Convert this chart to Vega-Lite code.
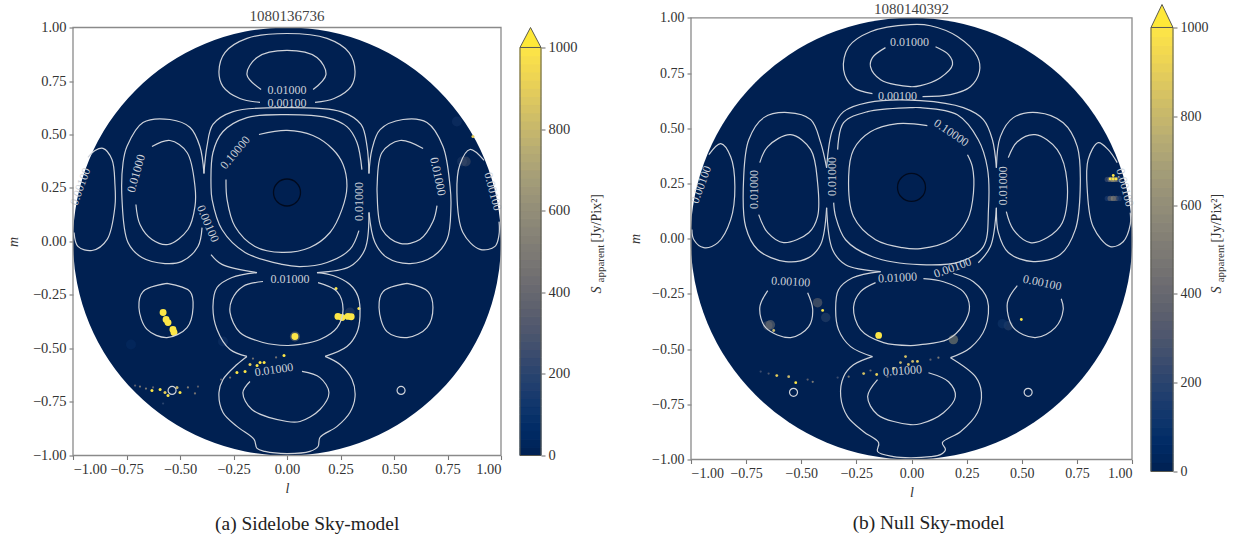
{
"$schema":"https://vega.github.io/schema/vega-lite/v6.json",
"background":"white",
"padding":{"left":6,"top":1.5,"right":0,"bottom":0},
"bounds":"flush",
"spacing":0,
"config":{"view":{"stroke":null},"font":"Liberation Serif","axis":{"grid":false,"labelFont":"Liberation Serif","titleFont":"Liberation Serif","labelColor":"#333333","titleColor":"#333333","tickColor":"#777777","domain":false,"tickSize":4,"tickWidth":1.1,"labelPadding":3,"titleFontWeight":"normal"},"title":{"font":"Liberation Serif","fontWeight":"normal","color":"#444444","fontSize":15}},
"datasets":{
"colorbar":[{"value":0,"value2":20,"flux":10},{"value":20,"value2":40,"flux":30},{"value":40,"value2":60,"flux":50},{"value":60,"value2":80,"flux":70},{"value":80,"value2":100,"flux":90},{"value":100,"value2":120,"flux":110},{"value":120,"value2":140,"flux":130},{"value":140,"value2":160,"flux":150},{"value":160,"value2":180,"flux":170},{"value":180,"value2":200,"flux":190},{"value":200,"value2":220,"flux":210},{"value":220,"value2":240,"flux":230},{"value":240,"value2":260,"flux":250},{"value":260,"value2":280,"flux":270},{"value":280,"value2":300,"flux":290},{"value":300,"value2":320,"flux":310},{"value":320,"value2":340,"flux":330},{"value":340,"value2":360,"flux":350},{"value":360,"value2":380,"flux":370},{"value":380,"value2":400,"flux":390},{"value":400,"value2":420,"flux":410},{"value":420,"value2":440,"flux":430},{"value":440,"value2":460,"flux":450},{"value":460,"value2":480,"flux":470},{"value":480,"value2":500,"flux":490},{"value":500,"value2":520,"flux":510},{"value":520,"value2":540,"flux":530},{"value":540,"value2":560,"flux":550},{"value":560,"value2":580,"flux":570},{"value":580,"value2":600,"flux":590},{"value":600,"value2":620,"flux":610},{"value":620,"value2":640,"flux":630},{"value":640,"value2":660,"flux":650},{"value":660,"value2":680,"flux":670},{"value":680,"value2":700,"flux":690},{"value":700,"value2":720,"flux":710},{"value":720,"value2":740,"flux":730},{"value":740,"value2":760,"flux":750},{"value":760,"value2":780,"flux":770},{"value":780,"value2":800,"flux":790},{"value":800,"value2":820,"flux":810},{"value":820,"value2":840,"flux":830},{"value":840,"value2":860,"flux":850},{"value":860,"value2":880,"flux":870},{"value":880,"value2":900,"flux":890},{"value":900,"value2":920,"flux":910},{"value":920,"value2":940,"flux":930},{"value":940,"value2":960,"flux":950},{"value":960,"value2":980,"flux":970},{"value":980,"value2":1000,"flux":990}],
"contours_a":[
{"seg":"a1","i":0,"l":-0.126,"m":0.65},{"seg":"a1","i":1,"l":-0.22,"m":0.668},{"seg":"a1","i":2,"l":-0.299,"m":0.724},{"seg":"a1","i":3,"l":-0.318,"m":0.794},{"seg":"a1","i":4,"l":-0.29,"m":0.883},{"seg":"a1","i":5,"l":-0.187,"m":0.949},{"seg":"a1","i":6,"l":0,"m":0.972},{"seg":"a1","i":7,"l":0.187,"m":0.949},{"seg":"a1","i":8,"l":0.29,"m":0.883},{"seg":"a1","i":9,"l":0.318,"m":0.794},{"seg":"a1","i":10,"l":0.299,"m":0.724},{"seg":"a1","i":11,"l":0.22,"m":0.668},{"seg":"a1","i":12,"l":0.131,"m":0.65},
{"seg":"a2","i":0,"l":-0.121,"m":0.71},{"seg":"a2","i":1,"l":-0.187,"m":0.78},{"seg":"a2","i":2,"l":-0.14,"m":0.86},{"seg":"a2","i":3,"l":0,"m":0.893},{"seg":"a2","i":4,"l":0.14,"m":0.86},{"seg":"a2","i":5,"l":0.182,"m":0.78},{"seg":"a2","i":6,"l":0.122,"m":0.71},
{"seg":"a3","i":0,"l":-0.397,"m":0.065},{"seg":"a3","i":1,"l":-0.416,"m":-0.023},{"seg":"a3","i":2,"l":-0.491,"m":-0.093},{"seg":"a3","i":3,"l":-0.57,"m":-0.103},{"seg":"a3","i":4,"l":-0.678,"m":-0.075},{"seg":"a3","i":5,"l":-0.743,"m":-0.005},{"seg":"a3","i":6,"l":-0.771,"m":0.196},{"seg":"a3","i":7,"l":-0.766,"m":0.369},{"seg":"a3","i":8,"l":-0.748,"m":0.444},{"seg":"a3","i":9,"l":-0.673,"m":0.556},{"seg":"a3","i":10,"l":-0.547,"m":0.57},{"seg":"a3","i":11,"l":-0.453,"m":0.533},{"seg":"a3","i":12,"l":-0.407,"m":0.444},{"seg":"a3","i":13,"l":-0.388,"m":0.318},
{"seg":"a4","i":0,"l":-0.388,"m":0.318},{"seg":"a4","i":1,"l":-0.374,"m":0.444},{"seg":"a4","i":2,"l":-0.346,"m":0.547},{"seg":"a4","i":3,"l":-0.252,"m":0.607},{"seg":"a4","i":4,"l":0,"m":0.626},{"seg":"a4","i":5,"l":0.252,"m":0.607},{"seg":"a4","i":6,"l":0.346,"m":0.547},{"seg":"a4","i":7,"l":0.374,"m":0.444},{"seg":"a4","i":8,"l":0.383,"m":0.318},
{"seg":"a5","i":0,"l":0.383,"m":0.318},{"seg":"a5","i":1,"l":0.397,"m":0.43},{"seg":"a5","i":2,"l":0.435,"m":0.523},{"seg":"a5","i":3,"l":0.542,"m":0.57},{"seg":"a5","i":4,"l":0.654,"m":0.556},{"seg":"a5","i":5,"l":0.729,"m":0.444},{"seg":"a5","i":6,"l":0.762,"m":0.257},{"seg":"a5","i":7,"l":0.766,"m":0.164},{"seg":"a5","i":8,"l":0.748,"m":0.009},{"seg":"a5","i":9,"l":0.682,"m":-0.07},{"seg":"a5","i":10,"l":0.575,"m":-0.103},{"seg":"a5","i":11,"l":0.467,"m":-0.075},{"seg":"a5","i":12,"l":0.411,"m":-0.005},{"seg":"a5","i":13,"l":0.383,"m":0.136},
{"seg":"a6","i":0,"l":0.383,"m":0.136},{"seg":"a6","i":1,"l":0.364,"m":-0.037},{"seg":"a6","i":2,"l":0.294,"m":-0.117},{"seg":"a6","i":3,"l":0.14,"m":-0.145},
{"seg":"a7","i":0,"l":0.14,"m":-0.145},{"seg":"a7","i":1,"l":0.215,"m":-0.159},{"seg":"a7","i":2,"l":0.294,"m":-0.201},{"seg":"a7","i":3,"l":0.332,"m":-0.257},{"seg":"a7","i":4,"l":0.341,"m":-0.35},{"seg":"a7","i":5,"l":0.327,"m":-0.425},{"seg":"a7","i":6,"l":0.28,"m":-0.491},{"seg":"a7","i":7,"l":0.178,"m":-0.537},
{"seg":"a8","i":0,"l":0.178,"m":-0.537},{"seg":"a8","i":1,"l":0.248,"m":-0.575},{"seg":"a8","i":2,"l":0.304,"m":-0.645},{"seg":"a8","i":3,"l":0.318,"m":-0.724},{"seg":"a8","i":4,"l":0.294,"m":-0.799},{"seg":"a8","i":5,"l":0.234,"m":-0.864},{"seg":"a8","i":6,"l":0.154,"m":-0.916},{"seg":"a8","i":7,"l":0.145,"m":-0.958},{"seg":"a8","i":8,"l":0.107,"m":-0.981},{"seg":"a8","i":9,"l":0,"m":-0.991},{"seg":"a8","i":10,"l":-0.103,"m":-0.981},{"seg":"a8","i":11,"l":-0.14,"m":-0.967},{"seg":"a8","i":12,"l":-0.154,"m":-0.925},{"seg":"a8","i":13,"l":-0.234,"m":-0.864},{"seg":"a8","i":14,"l":-0.299,"m":-0.799},{"seg":"a8","i":15,"l":-0.318,"m":-0.706},{"seg":"a8","i":16,"l":-0.299,"m":-0.645},{"seg":"a8","i":17,"l":-0.234,"m":-0.575},{"seg":"a8","i":18,"l":-0.187,"m":-0.537},
{"seg":"a9","i":0,"l":-0.187,"m":-0.537},{"seg":"a9","i":1,"l":-0.266,"m":-0.505},{"seg":"a9","i":2,"l":-0.327,"m":-0.411},{"seg":"a9","i":3,"l":-0.346,"m":-0.304},{"seg":"a9","i":4,"l":-0.327,"m":-0.215},{"seg":"a9","i":5,"l":-0.257,"m":-0.168},{"seg":"a9","i":6,"l":-0.14,"m":-0.145},
{"seg":"a10","i":0,"l":-0.14,"m":-0.145},{"seg":"a10","i":1,"l":-0.304,"m":-0.107},{"seg":"a10","i":2,"l":-0.355,"m":-0.061},
{"seg":"a11","i":0,"l":0.35,"m":0.336},{"seg":"a11","i":1,"l":0.327,"m":0.463},{"seg":"a11","i":2,"l":0.28,"m":0.537},{"seg":"a11","i":3,"l":0.187,"m":0.579},{"seg":"a11","i":4,"l":0,"m":0.593},{"seg":"a11","i":5,"l":-0.187,"m":0.579},{"seg":"a11","i":6,"l":-0.299,"m":0.514},{"seg":"a11","i":7,"l":-0.346,"m":0.416},{"seg":"a11","i":8,"l":-0.355,"m":0.257},{"seg":"a11","i":9,"l":-0.35,"m":0.196},{"seg":"a11","i":10,"l":-0.304,"m":0.056},{"seg":"a11","i":11,"l":-0.196,"m":-0.051},{"seg":"a11","i":12,"l":-0.023,"m":-0.107},{"seg":"a11","i":13,"l":0.061,"m":-0.117},{"seg":"a11","i":14,"l":0.187,"m":-0.098},{"seg":"a11","i":15,"l":0.294,"m":-0.037},{"seg":"a11","i":16,"l":0.336,"m":0.051},
{"seg":"a12","i":0,"l":-0.131,"m":0.5},{"seg":"a12","i":1,"l":0,"m":0.519},{"seg":"a12","i":2,"l":0.121,"m":0.495},{"seg":"a12","i":3,"l":0.215,"m":0.43},{"seg":"a12","i":4,"l":0.262,"m":0.36},{"seg":"a12","i":5,"l":0.28,"m":0.257},{"seg":"a12","i":6,"l":0.257,"m":0.15},{"seg":"a12","i":7,"l":0.201,"m":0.042},{"seg":"a12","i":8,"l":0.107,"m":-0.028},{"seg":"a12","i":9,"l":-0.023,"m":-0.051},{"seg":"a12","i":10,"l":-0.15,"m":-0.023},{"seg":"a12","i":11,"l":-0.243,"m":0.07},{"seg":"a12","i":12,"l":-0.28,"m":0.196},{"seg":"a12","i":13,"l":-0.285,"m":0.29},
{"seg":"a13","i":0,"l":-0.631,"m":0.444},{"seg":"a13","i":1,"l":-0.547,"m":0.472},{"seg":"a13","i":2,"l":-0.467,"m":0.416},{"seg":"a13","i":3,"l":-0.43,"m":0.257},{"seg":"a13","i":4,"l":-0.43,"m":0.164},{"seg":"a13","i":5,"l":-0.463,"m":0.056},{"seg":"a13","i":6,"l":-0.556,"m":-0.014},{"seg":"a13","i":7,"l":-0.631,"m":0.009},{"seg":"a13","i":8,"l":-0.687,"m":0.079},{"seg":"a13","i":9,"l":-0.706,"m":0.173},
{"seg":"a14","i":0,"l":0.636,"m":0.435},{"seg":"a14","i":1,"l":0.528,"m":0.472},{"seg":"a14","i":2,"l":0.444,"m":0.416},{"seg":"a14","i":3,"l":0.421,"m":0.257},{"seg":"a14","i":4,"l":0.421,"m":0.229},{"seg":"a14","i":5,"l":0.444,"m":0.056},{"seg":"a14","i":6,"l":0.528,"m":-0.009},{"seg":"a14","i":7,"l":0.621,"m":0.009},{"seg":"a14","i":8,"l":0.682,"m":0.093},{"seg":"a14","i":9,"l":0.701,"m":0.168},
{"seg":"a15","i":0,"l":-0.93,"m":0.393},{"seg":"a15","i":1,"l":-0.897,"m":0.425},{"seg":"a15","i":2,"l":-0.86,"m":0.435},{"seg":"a15","i":3,"l":-0.818,"m":0.383},{"seg":"a15","i":4,"l":-0.804,"m":0.266},{"seg":"a15","i":5,"l":-0.804,"m":0.164},{"seg":"a15","i":6,"l":-0.841,"m":0.009},{"seg":"a15","i":7,"l":-0.911,"m":-0.042},{"seg":"a15","i":8,"l":-0.977,"m":-0.023},{"seg":"a15","i":9,"l":-0.995,"m":0.042},
{"seg":"a16","i":0,"l":0.921,"m":0.379},{"seg":"a16","i":1,"l":0.855,"m":0.43},{"seg":"a16","i":2,"l":0.808,"m":0.36},{"seg":"a16","i":3,"l":0.794,"m":0.229},{"seg":"a16","i":4,"l":0.822,"m":0.042},{"seg":"a16","i":5,"l":0.902,"m":-0.037},{"seg":"a16","i":6,"l":0.972,"m":-0.023},{"seg":"a16","i":7,"l":0.991,"m":0.033},{"seg":"a16","i":8,"l":0.991,"m":0.093},
{"seg":"a17","i":0,"l":-0.561,"m":-0.196},{"seg":"a17","i":1,"l":-0.453,"m":-0.234},{"seg":"a17","i":2,"l":-0.439,"m":-0.308},{"seg":"a17","i":3,"l":-0.467,"m":-0.402},{"seg":"a17","i":4,"l":-0.561,"m":-0.449},{"seg":"a17","i":5,"l":-0.654,"m":-0.411},{"seg":"a17","i":6,"l":-0.692,"m":-0.308},{"seg":"a17","i":7,"l":-0.673,"m":-0.234},{"seg":"a17","i":8,"l":-0.561,"m":-0.196},
{"seg":"a18","i":0,"l":0.561,"m":-0.196},{"seg":"a18","i":1,"l":0.659,"m":-0.234},{"seg":"a18","i":2,"l":0.682,"m":-0.308},{"seg":"a18","i":3,"l":0.654,"m":-0.402},{"seg":"a18","i":4,"l":0.561,"m":-0.449},{"seg":"a18","i":5,"l":0.467,"m":-0.421},{"seg":"a18","i":6,"l":0.43,"m":-0.308},{"seg":"a18","i":7,"l":0.449,"m":-0.234},{"seg":"a18","i":8,"l":0.561,"m":-0.196},
{"seg":"a19","i":0,"l":-0.112,"m":-0.187},{"seg":"a19","i":1,"l":-0.206,"m":-0.21},{"seg":"a19","i":2,"l":-0.257,"m":-0.271},{"seg":"a19","i":3,"l":-0.266,"m":-0.332},{"seg":"a19","i":4,"l":-0.22,"m":-0.425},{"seg":"a19","i":5,"l":-0.112,"m":-0.472},{"seg":"a19","i":6,"l":0,"m":-0.486},{"seg":"a19","i":7,"l":0.061,"m":-0.481},{"seg":"a19","i":8,"l":0.154,"m":-0.458},{"seg":"a19","i":9,"l":0.234,"m":-0.402},{"seg":"a19","i":10,"l":0.262,"m":-0.318},{"seg":"a19","i":11,"l":0.234,"m":-0.234},{"seg":"a19","i":12,"l":0.145,"m":-0.192},
{"seg":"a20","i":0,"l":-0.173,"m":-0.654},{"seg":"a20","i":1,"l":-0.206,"m":-0.706},{"seg":"a20","i":2,"l":-0.164,"m":-0.785},{"seg":"a20","i":3,"l":0,"m":-0.841},{"seg":"a20","i":4,"l":0.061,"m":-0.841},{"seg":"a20","i":5,"l":0.154,"m":-0.785},{"seg":"a20","i":6,"l":0.196,"m":-0.706},{"seg":"a20","i":7,"l":0.154,"m":-0.636},{"seg":"a20","i":8,"l":0.07,"m":-0.607}
],
"contours_b":[
{"seg":"b1","i":0,"l":-0.177,"m":0.657},{"seg":"b1","i":1,"l":-0.263,"m":0.684},{"seg":"b1","i":2,"l":-0.308,"m":0.765},{"seg":"b1","i":3,"l":-0.285,"m":0.869},{"seg":"b1","i":4,"l":-0.186,"m":0.937},{"seg":"b1","i":5,"l":-0.005,"m":0.969},{"seg":"b1","i":6,"l":0.086,"m":0.964},{"seg":"b1","i":7,"l":0.208,"m":0.915},{"seg":"b1","i":8,"l":0.299,"m":0.824},{"seg":"b1","i":9,"l":0.308,"m":0.756},{"seg":"b1","i":10,"l":0.267,"m":0.688},{"seg":"b1","i":11,"l":0.177,"m":0.652},{"seg":"b1","i":12,"l":0.05,"m":0.643},
{"seg":"b2","i":0,"l":-0.118,"m":0.865},{"seg":"b2","i":1,"l":-0.177,"m":0.82},{"seg":"b2","i":2,"l":-0.186,"m":0.779},{"seg":"b2","i":3,"l":-0.14,"m":0.72},{"seg":"b2","i":4,"l":-0.005,"m":0.688},{"seg":"b2","i":5,"l":0.041,"m":0.693},{"seg":"b2","i":6,"l":0.131,"m":0.729},{"seg":"b2","i":7,"l":0.186,"m":0.788},{"seg":"b2","i":8,"l":0.168,"m":0.833},{"seg":"b2","i":9,"l":0.109,"m":0.869},
{"seg":"b3","i":0,"l":-0.385,"m":0.14},{"seg":"b3","i":1,"l":-0.358,"m":-0.05},{"seg":"b3","i":2,"l":-0.299,"m":-0.118},{"seg":"b3","i":3,"l":-0.14,"m":-0.149},
{"seg":"b4","i":0,"l":-0.14,"m":-0.149},{"seg":"b4","i":1,"l":-0.267,"m":-0.177},{"seg":"b4","i":2,"l":-0.331,"m":-0.231},{"seg":"b4","i":3,"l":-0.344,"m":-0.321},{"seg":"b4","i":4,"l":-0.331,"m":-0.412},{"seg":"b4","i":5,"l":-0.276,"m":-0.489},{"seg":"b4","i":6,"l":-0.177,"m":-0.534},
{"seg":"b5","i":0,"l":-0.177,"m":-0.534},{"seg":"b5","i":1,"l":-0.263,"m":-0.571},{"seg":"b5","i":2,"l":-0.308,"m":-0.625},{"seg":"b5","i":3,"l":-0.321,"m":-0.715},{"seg":"b5","i":4,"l":-0.29,"m":-0.806},{"seg":"b5","i":5,"l":-0.217,"m":-0.874},{"seg":"b5","i":6,"l":-0.149,"m":-0.924},{"seg":"b5","i":7,"l":-0.154,"m":-0.964},{"seg":"b5","i":8,"l":-0.082,"m":-0.987},{"seg":"b5","i":9,"l":-0.005,"m":-0.992},{"seg":"b5","i":10,"l":0.086,"m":-0.987},{"seg":"b5","i":11,"l":0.131,"m":-0.978},{"seg":"b5","i":12,"l":0.154,"m":-0.955},{"seg":"b5","i":13,"l":0.14,"m":-0.924},{"seg":"b5","i":14,"l":0.222,"m":-0.874},{"seg":"b5","i":15,"l":0.299,"m":-0.788},{"seg":"b5","i":16,"l":0.317,"m":-0.697},{"seg":"b5","i":17,"l":0.29,"m":-0.625},{"seg":"b5","i":18,"l":0.177,"m":-0.539},
{"seg":"b6","i":0,"l":0.177,"m":-0.539},{"seg":"b6","i":1,"l":0.267,"m":-0.494},{"seg":"b6","i":2,"l":0.335,"m":-0.403},{"seg":"b6","i":3,"l":0.344,"m":-0.276},{"seg":"b6","i":4,"l":0.281,"m":-0.195},{"seg":"b6","i":5,"l":0.19,"m":-0.158},
{"seg":"b7","i":0,"l":0.303,"m":-0.109},{"seg":"b7","i":1,"l":0.358,"m":-0.036},{"seg":"b7","i":2,"l":0.385,"m":0.14},
{"seg":"b8","i":0,"l":0.385,"m":0.14},{"seg":"b8","i":1,"l":0.394,"m":0.027},{"seg":"b8","i":2,"l":0.439,"m":-0.063},{"seg":"b8","i":3,"l":0.552,"m":-0.104},{"seg":"b8","i":4,"l":0.675,"m":-0.072},{"seg":"b8","i":5,"l":0.743,"m":0.041},{"seg":"b8","i":6,"l":0.765,"m":0.222},{"seg":"b8","i":7,"l":0.752,"m":0.417},{"seg":"b8","i":8,"l":0.688,"m":0.525},{"seg":"b8","i":9,"l":0.571,"m":0.571},{"seg":"b8","i":10,"l":0.462,"m":0.548},{"seg":"b8","i":11,"l":0.403,"m":0.462},{"seg":"b8","i":12,"l":0.385,"m":0.321},
{"seg":"b9","i":0,"l":0.385,"m":0.321},{"seg":"b9","i":1,"l":0.367,"m":0.448},{"seg":"b9","i":2,"l":0.326,"m":0.539},{"seg":"b9","i":3,"l":0.235,"m":0.593},{"seg":"b9","i":4,"l":0.041,"m":0.625},{"seg":"b9","i":5,"l":-0.199,"m":0.616},{"seg":"b9","i":6,"l":-0.308,"m":0.575},{"seg":"b9","i":7,"l":-0.358,"m":0.494},{"seg":"b9","i":8,"l":-0.385,"m":0.321},
{"seg":"b10","i":0,"l":-0.385,"m":0.321},{"seg":"b10","i":1,"l":-0.412,"m":0.435},{"seg":"b10","i":2,"l":-0.457,"m":0.539},{"seg":"b10","i":3,"l":-0.561,"m":0.571},{"seg":"b10","i":4,"l":-0.67,"m":0.548},{"seg":"b10","i":5,"l":-0.738,"m":0.448},{"seg":"b10","i":6,"l":-0.761,"m":0.281},{"seg":"b10","i":7,"l":-0.752,"m":0.054},{"seg":"b10","i":8,"l":-0.697,"m":-0.05},{"seg":"b10","i":9,"l":-0.571,"m":-0.104},{"seg":"b10","i":10,"l":-0.466,"m":-0.086},{"seg":"b10","i":11,"l":-0.412,"m":-0.027},{"seg":"b10","i":12,"l":-0.385,"m":0.14},
{"seg":"b11","i":0,"l":-0.335,"m":0.403},{"seg":"b11","i":1,"l":-0.308,"m":0.525},{"seg":"b11","i":2,"l":-0.199,"m":0.575},{"seg":"b11","i":3,"l":-0.005,"m":0.593},{"seg":"b11","i":4,"l":0.041,"m":0.593},{"seg":"b11","i":5,"l":0.208,"m":0.561},{"seg":"b11","i":6,"l":0.303,"m":0.448},{"seg":"b11","i":7,"l":0.344,"m":0.321},{"seg":"b11","i":8,"l":0.349,"m":0.131},{"seg":"b11","i":9,"l":0.326,"m":-0.036},{"seg":"b11","i":10,"l":0.222,"m":-0.104},{"seg":"b11","i":11,"l":0.041,"m":-0.118},{"seg":"b11","i":12,"l":-0.177,"m":-0.082},{"seg":"b11","i":13,"l":-0.299,"m":-0.005},{"seg":"b11","i":14,"l":-0.344,"m":0.1},{"seg":"b11","i":15,"l":-0.353,"m":0.163},
{"seg":"b12","i":0,"l":0.072,"m":0.512},{"seg":"b12","i":1,"l":-0.063,"m":0.521},{"seg":"b12","i":2,"l":-0.186,"m":0.484},{"seg":"b12","i":3,"l":-0.263,"m":0.403},{"seg":"b12","i":4,"l":-0.285,"m":0.281},{"seg":"b12","i":5,"l":-0.263,"m":0.1},{"seg":"b12","i":6,"l":-0.163,"m":-0.005},{"seg":"b12","i":7,"l":-0.041,"m":-0.041},{"seg":"b12","i":8,"l":0.041,"m":-0.045},{"seg":"b12","i":9,"l":0.177,"m":-0.005},{"seg":"b12","i":10,"l":0.254,"m":0.086},{"seg":"b12","i":11,"l":0.281,"m":0.208},{"seg":"b12","i":12,"l":0.276,"m":0.326},{"seg":"b12","i":13,"l":0.254,"m":0.38},
{"seg":"b13","i":0,"l":-0.688,"m":0.344},{"seg":"b13","i":1,"l":-0.652,"m":0.417},{"seg":"b13","i":2,"l":-0.548,"m":0.471},{"seg":"b13","i":3,"l":-0.457,"m":0.403},{"seg":"b13","i":4,"l":-0.426,"m":0.254},{"seg":"b13","i":5,"l":-0.426,"m":0.1},{"seg":"b13","i":6,"l":-0.466,"m":0.027},{"seg":"b13","i":7,"l":-0.58,"m":-0.018},{"seg":"b13","i":8,"l":-0.652,"m":0.027},{"seg":"b13","i":9,"l":-0.693,"m":0.109},
{"seg":"b14","i":0,"l":0.439,"m":0.367},{"seg":"b14","i":1,"l":0.48,"m":0.439},{"seg":"b14","i":2,"l":0.561,"m":0.471},{"seg":"b14","i":3,"l":0.661,"m":0.403},{"seg":"b14","i":4,"l":0.706,"m":0.254},{"seg":"b14","i":5,"l":0.684,"m":0.072},{"seg":"b14","i":6,"l":0.616,"m":0.005},{"seg":"b14","i":7,"l":0.539,"m":-0.018},{"seg":"b14","i":8,"l":0.462,"m":0.041},{"seg":"b14","i":9,"l":0.43,"m":0.122},
{"seg":"b15","i":0,"l":-0.919,"m":0.38},{"seg":"b15","i":1,"l":-0.865,"m":0.43},{"seg":"b15","i":2,"l":-0.82,"m":0.371},{"seg":"b15","i":3,"l":-0.801,"m":0.235},{"seg":"b15","i":4,"l":-0.82,"m":0.086},{"seg":"b15","i":5,"l":-0.878,"m":-0.018},{"seg":"b15","i":6,"l":-0.942,"m":-0.041},{"seg":"b15","i":7,"l":-0.987,"m":-0.005},{"seg":"b15","i":8,"l":-0.996,"m":0.041},
{"seg":"b16","i":0,"l":0.933,"m":0.344},{"seg":"b16","i":1,"l":0.892,"m":0.403},{"seg":"b16","i":2,"l":0.847,"m":0.435},{"seg":"b16","i":3,"l":0.801,"m":0.358},{"seg":"b16","i":4,"l":0.797,"m":0.222},{"seg":"b16","i":5,"l":0.824,"m":0.054},{"seg":"b16","i":6,"l":0.901,"m":-0.036},{"seg":"b16","i":7,"l":0.96,"m":-0.014},{"seg":"b16","i":8,"l":0.992,"m":0.063},{"seg":"b16","i":9,"l":0.992,"m":0.118},
{"seg":"b17","i":0,"l":-0.652,"m":-0.235},{"seg":"b17","i":1,"l":-0.688,"m":-0.312},{"seg":"b17","i":2,"l":-0.661,"m":-0.403},{"seg":"b17","i":3,"l":-0.548,"m":-0.448},{"seg":"b17","i":4,"l":-0.466,"m":-0.398},{"seg":"b17","i":5,"l":-0.448,"m":-0.321},{"seg":"b17","i":6,"l":-0.471,"m":-0.245},
{"seg":"b18","i":0,"l":0.48,"m":-0.213},{"seg":"b18","i":1,"l":0.435,"m":-0.29},{"seg":"b18","i":2,"l":0.462,"m":-0.403},{"seg":"b18","i":3,"l":0.561,"m":-0.448},{"seg":"b18","i":4,"l":0.652,"m":-0.403},{"seg":"b18","i":5,"l":0.688,"m":-0.321},{"seg":"b18","i":6,"l":0.679,"m":-0.272},
{"seg":"b19","i":0,"l":-0.163,"m":-0.199},{"seg":"b19","i":1,"l":-0.231,"m":-0.24},{"seg":"b19","i":2,"l":-0.263,"m":-0.312},{"seg":"b19","i":3,"l":-0.231,"m":-0.412},{"seg":"b19","i":4,"l":-0.127,"m":-0.471},{"seg":"b19","i":5,"l":-0.005,"m":-0.484},{"seg":"b19","i":6,"l":0.041,"m":-0.48},{"seg":"b19","i":7,"l":0.163,"m":-0.457},{"seg":"b19","i":8,"l":0.235,"m":-0.389},{"seg":"b19","i":9,"l":0.263,"m":-0.308},{"seg":"b19","i":10,"l":0.235,"m":-0.24},{"seg":"b19","i":11,"l":0.145,"m":-0.195},{"seg":"b19","i":12,"l":0.054,"m":-0.181},
{"seg":"b20","i":0,"l":-0.154,"m":-0.638},{"seg":"b20","i":1,"l":-0.199,"m":-0.715},{"seg":"b20","i":2,"l":-0.154,"m":-0.797},{"seg":"b20","i":3,"l":-0.005,"m":-0.842},{"seg":"b20","i":4,"l":0.041,"m":-0.838},{"seg":"b20","i":5,"l":0.145,"m":-0.788},{"seg":"b20","i":6,"l":0.199,"m":-0.715},{"seg":"b20","i":7,"l":0.168,"m":-0.648},{"seg":"b20","i":8,"l":0.077,"m":-0.607}
]
},
"hconcat":[
{"width":428,"height":531,"title":{"text":"1080136736","offset":-20},
"encoding":{"x":{"field":"l","type":"quantitative","scale":{"domain":[-1,1],"nice":false,"zero":false},"axis":{"values":[-1,-0.75,-0.5,-0.25,0,0.25,0.5,0.75,1],"format":".2f","labelFontSize":14.5,"labelPadding":3,"offset":-79,"title":"l","titleFontStyle":"italic","titleFontSize":14,"titleY":26}},"y":{"field":"m","type":"quantitative","scale":{"domain":[-1.36916,1.11215],"nice":false,"zero":false},"axis":{"values":[-1,-0.75,-0.5,-0.25,0,0.25,0.5,0.75,1],"format":".2f","labelFontSize":14.5,"title":"m","titleFontStyle":"italic","titleFontSize":14,"titleX":-53,"titleY":238}}},
"layer":[
{"data":{"values":[{"l":0,"m":0,"flux":0}]},"mark":{"type":"point","filled":true,"opacity":1,"size":183184},"encoding":{"color":{"field":"flux","type":"quantitative","scale":{"domain":[0,1000],"scheme":"cividis"},"legend":null}}},
{"data":{"values":[{"l":0.818,"m":0.374,"flux":200},{"l":0.835,"m":0.374,"flux":350},{"l":0.794,"m":0.561,"flux":150},{"l":0.294,"m":-0.332,"flux":250},{"l":-0.729,"m":-0.481,"flux":90},{"l":-0.299,"m":-0.467,"flux":150},{"l":0.037,"m":-0.444,"flux":650}]},"mark":{"type":"circle","opacity":0.4,"size":100},"encoding":{"color":{"field":"flux","type":"quantitative","scale":{"domain":[0,1000],"scheme":"cividis"},"legend":null}}},
{"data":{"values":[{"l":-0.159,"m":-0.547,"flux":450},{"l":-0.051,"m":-0.542,"flux":450},{"l":-0.266,"m":-0.636,"flux":450},{"l":-0.308,"m":-0.645,"flux":350},{"l":-0.416,"m":-0.678,"flux":350},{"l":-0.43,"m":-0.71,"flux":450},{"l":-0.463,"m":-0.682,"flux":500},{"l":-0.659,"m":-0.687,"flux":500},{"l":-0.687,"m":-0.678,"flux":450},{"l":-0.71,"m":-0.673,"flux":350},{"l":-0.626,"m":-0.682,"flux":350},{"l":-0.579,"m":-0.757,"flux":200}]},"mark":{"type":"circle","opacity":1,"size":5},"encoding":{"color":{"field":"flux","type":"quantitative","scale":{"domain":[0,1000],"scheme":"cividis"},"legend":null}}},
{"data":{"values":[{"l":0.229,"m":-0.22,"flux":1000},{"l":0.336,"m":-0.313,"flux":1000},{"l":0.869,"m":0.491,"flux":900},{"l":-0.014,"m":-0.533,"flux":1000},{"l":-0.107,"m":-0.565,"flux":1000},{"l":-0.126,"m":-0.565,"flux":1000},{"l":-0.14,"m":-0.579,"flux":1000},{"l":-0.196,"m":-0.607,"flux":1000},{"l":-0.173,"m":-0.575,"flux":900},{"l":-0.234,"m":-0.612,"flux":1000},{"l":-0.556,"m":-0.72,"flux":1000},{"l":-0.5,"m":-0.706,"flux":1000},{"l":-0.57,"m":-0.706,"flux":900},{"l":-0.593,"m":-0.692,"flux":1000},{"l":-0.631,"m":-0.696,"flux":1000},{"l":-0.514,"m":-0.682,"flux":800}]},"mark":{"type":"circle","opacity":1,"size":9},"encoding":{"color":{"field":"flux","type":"quantitative","scale":{"domain":[0,1000],"scheme":"cividis"},"legend":null}}},
{"data":{"values":[{"l":-0.579,"m":-0.332,"flux":1000},{"l":-0.565,"m":-0.364,"flux":1000},{"l":-0.556,"m":-0.379,"flux":1000},{"l":-0.533,"m":-0.411,"flux":1000},{"l":-0.528,"m":-0.425,"flux":1000},{"l":0.037,"m":-0.444,"flux":1000},{"l":0.238,"m":-0.35,"flux":1000},{"l":0.257,"m":-0.355,"flux":1000},{"l":0.285,"m":-0.35,"flux":1000},{"l":0.3,"m":-0.352,"flux":1000}]},"mark":{"type":"circle","opacity":1,"size":48},"encoding":{"color":{"field":"flux","type":"quantitative","scale":{"domain":[0,1000],"scheme":"cividis"},"legend":null}}},
{"data":{"name":"contours_a"},"mark":{"type":"line","interpolate":"catmull-rom","stroke":"#cfd3da","strokeWidth":1.2},"encoding":{"detail":{"field":"seg"},"order":{"field":"i","type":"quantitative"}}},
{"data":{"values":[{"l":0,"m":0.229}]},"mark":{"type":"point","filled":false,"opacity":1,"stroke":"#000a1e","strokeWidth":1.3,"size":729}},
{"data":{"values":[{"l":-0.537,"m":-0.696},{"l":0.533,"m":-0.696}]},"mark":{"type":"point","filled":false,"opacity":1,"stroke":"#cfd3da","strokeWidth":1.2,"size":64}},
{"data":{"values":[{"l":0,"m":0.708,"label":"0.01000"},{"l":0,"m":0.645,"label":"0.00100"},{"l":0.014,"m":-0.173,"label":"0.01000"}]},"mark":{"type":"text","font":"Liberation Serif","fontSize":12,"color":"#ccd1d8"},"encoding":{"text":{"field":"label"}}},
{"data":{"values":[{"l":-0.243,"m":0.416,"label":"0.10000"}]},"mark":{"type":"text","font":"Liberation Serif","fontSize":12,"color":"#ccd1d8","angle":-50},"encoding":{"text":{"field":"label"}}},
{"data":{"values":[{"l":-0.706,"m":0.318,"label":"0.01000"}]},"mark":{"type":"text","font":"Liberation Serif","fontSize":12,"color":"#ccd1d8","angle":-74},"encoding":{"text":{"field":"label"}}},
{"data":{"values":[{"l":-0.369,"m":0.084,"label":"0.00100"}]},"mark":{"type":"text","font":"Liberation Serif","fontSize":12,"color":"#ccd1d8","angle":67},"encoding":{"text":{"field":"label"}}},
{"data":{"values":[{"l":0.336,"m":0.187,"label":"0.01000"}]},"mark":{"type":"text","font":"Liberation Serif","fontSize":12,"color":"#ccd1d8","angle":-90},"encoding":{"text":{"field":"label"}}},
{"data":{"values":[{"l":0.706,"m":0.304,"label":"0.01000"}]},"mark":{"type":"text","font":"Liberation Serif","fontSize":12,"color":"#ccd1d8","angle":78},"encoding":{"text":{"field":"label"}}},
{"data":{"values":[{"l":-0.967,"m":0.257,"label":"0.00100"}]},"mark":{"type":"text","font":"Liberation Serif","fontSize":12,"color":"#ccd1d8","angle":-70},"encoding":{"text":{"field":"label"}}},
{"data":{"values":[{"l":0.963,"m":0.234,"label":"0.00100"}]},"mark":{"type":"text","font":"Liberation Serif","fontSize":12,"color":"#ccd1d8","angle":75},"encoding":{"text":{"field":"label"}}},
{"data":{"values":[{"l":-0.061,"m":-0.598,"label":"0.01000"}]},"mark":{"type":"text","font":"Liberation Serif","fontSize":12,"color":"#ccd1d8","angle":-8},"encoding":{"text":{"field":"label"}}},
{"data":{"values":[{"l":-1,"l2":1,"m":-1,"m2":1}]},"mark":{"type":"rect","fillOpacity":0,"stroke":"#8a8a8a","strokeWidth":1.3},"encoding":{"x2":{"field":"l2"},"y2":{"field":"m2"}}},
{"data":{"values":[{"l":-0.336,"m":-1.32,"caption":"(a) Sidelobe Sky-model"}]},"mark":{"type":"text","font":"Liberation Serif","fontSize":19.4,"color":"#222222","align":"left"},"encoding":{"text":{"field":"caption"}}}
]},
{"width":190,"height":531,
"encoding":{"y":{"field":"value","type":"quantitative","scale":{"domain":[-193.63,1107.84],"nice":false,"zero":false},"axis":{"orient":"right","offset":-150,"values":[0,200,400,600,800,1000],"format":"d","labelFontSize":14.5,"title":null}}},
"layer":[
{"data":{"name":"colorbar"},"mark":{"type":"rect"},"encoding":{"x":{"datum":0,"type":"quantitative","scale":{"domain":[-0.905,8.143],"nice":false,"zero":false},"axis":null},"x2":{"datum":1},"y2":{"field":"value2"},"color":{"field":"flux","type":"quantitative","scale":{"domain":[0,1000],"scheme":"cividis"},"legend":null},"stroke":{"field":"flux","type":"quantitative","scale":{"domain":[0,1000],"scheme":"cividis"},"legend":null}}},
{"data":{"values":[{"edge":0,"value":1000,"value2":1000},{"edge":0.5,"value":1049,"value2":1000},{"edge":1,"value":1000,"value2":1000}]},"mark":{"type":"area","fill":"#fee838","stroke":"#5a5a50","strokeWidth":1},"encoding":{"x":{"field":"edge","type":"quantitative","axis":null},"y2":{"field":"value2"}}},
{"data":{"values":[{"value":0,"value2":1000}]},"mark":{"type":"rect","fillOpacity":0,"stroke":"#5a5a50","strokeWidth":1},"encoding":{"x":{"datum":0,"type":"quantitative","axis":null},"x2":{"datum":1},"y2":{"field":"value2"}}},
{"data":{"values":[{"value":397,"part":"S"}]},"mark":{"type":"text","font":"Liberation Serif","fontSize":14,"fontStyle":"italic","color":"#333333","angle":-90,"align":"left","baseline":"middle"},"encoding":{"x":{"datum":3.667,"type":"quantitative","axis":null},"text":{"field":"part"}}},
{"data":{"values":[{"value":424,"part":"apparent"}]},"mark":{"type":"text","font":"Liberation Serif","fontSize":11,"color":"#333333","angle":-90,"align":"left","baseline":"middle"},"encoding":{"x":{"datum":3.857,"type":"quantitative","axis":null},"text":{"field":"part"}}},
{"data":{"values":[{"value":522,"part":"[Jy/Pix²]"}]},"mark":{"type":"text","font":"Liberation Serif","fontSize":14,"color":"#333333","angle":-90,"align":"left","baseline":"middle"},"encoding":{"x":{"datum":3.667,"type":"quantitative","axis":null},"text":{"field":"part"}}}
]},
{"width":441,"height":531,"title":{"text":"1080140392","offset":-13.5},
"encoding":{"x":{"field":"l","type":"quantitative","scale":{"domain":[-1,1],"nice":false,"zero":false},"axis":{"values":[-1,-0.75,-0.5,-0.25,0,0.25,0.5,0.75,1],"format":".2f","labelFontSize":14,"labelPadding":3,"offset":-75,"title":"l","titleFontStyle":"italic","titleFontSize":14,"titleY":26}},"y":{"field":"m","type":"quantitative","scale":{"domain":[-1.3396,1.06475],"nice":false,"zero":false},"axis":{"values":[-1,-0.75,-0.5,-0.25,0,0.25,0.5,0.75,1],"format":".2f","labelFontSize":14,"title":"m","titleFontStyle":"italic","titleFontSize":14,"titleX":-49,"titleY":235}}},
"layer":[
{"data":{"values":[{"l":0,"m":0,"flux":0}]},"mark":{"type":"point","filled":true,"opacity":1,"size":195099},"encoding":{"color":{"field":"flux","type":"quantitative","scale":{"domain":[0,1000],"scheme":"cividis"},"legend":null}}},
{"data":{"values":[{"l":0.19,"m":-0.457,"flux":650},{"l":-0.652,"m":-0.394,"flux":350},{"l":-0.64,"m":-0.39,"flux":500},{"l":-0.426,"m":-0.29,"flux":450},{"l":-0.389,"m":-0.357,"flux":220},{"l":0.439,"m":-0.394,"flux":220},{"l":0.412,"m":-0.385,"flux":130}]},"mark":{"type":"circle","opacity":0.5,"size":90},"encoding":{"color":{"field":"flux","type":"quantitative","scale":{"domain":[0,1000],"scheme":"cividis"},"legend":null}}},
{"data":{"values":[{"l":0.888,"m":0.268,"flux":250},{"l":0.901,"m":0.268,"flux":500},{"l":0.915,"m":0.268,"flux":700},{"l":0.928,"m":0.268,"flux":500},{"l":0.942,"m":0.268,"flux":250},{"l":0.888,"m":0.182,"flux":150},{"l":0.901,"m":0.182,"flux":400},{"l":0.915,"m":0.182,"flux":550},{"l":0.928,"m":0.182,"flux":400},{"l":0.942,"m":0.182,"flux":150}]},"mark":{"type":"circle","opacity":0.7,"size":28},"encoding":{"color":{"field":"flux","type":"quantitative","scale":{"domain":[0,1000],"scheme":"cividis"},"legend":null}}},
{"data":{"values":[{"l":-0.285,"m":-0.625,"flux":500},{"l":-0.186,"m":-0.597,"flux":450},{"l":-0.109,"m":-0.625,"flux":350},{"l":0.086,"m":-0.548,"flux":350},{"l":0.122,"m":-0.539,"flux":500},{"l":-0.684,"m":-0.602,"flux":250},{"l":-0.648,"m":-0.611,"flux":300},{"l":-0.471,"m":-0.638,"flux":350},{"l":-0.448,"m":-0.648,"flux":500},{"l":-0.335,"m":-0.629,"flux":250}]},"mark":{"type":"circle","opacity":1,"size":5},"encoding":{"color":{"field":"flux","type":"quantitative","scale":{"domain":[0,1000],"scheme":"cividis"},"legend":null}}},
{"data":{"values":[{"l":-0.403,"m":-0.325,"flux":1000},{"l":0.498,"m":-0.366,"flux":1000},{"l":-0.625,"m":-0.416,"flux":800},{"l":-0.525,"m":-0.652,"flux":1000},{"l":-0.557,"m":-0.625,"flux":800},{"l":-0.611,"m":-0.62,"flux":900},{"l":-0.217,"m":-0.611,"flux":850},{"l":-0.158,"m":-0.615,"flux":900},{"l":-0.082,"m":-0.588,"flux":800},{"l":-0.05,"m":-0.561,"flux":800},{"l":-0.027,"m":-0.534,"flux":850},{"l":0.005,"m":-0.556,"flux":800},{"l":0.027,"m":-0.556,"flux":900},{"l":-0.014,"m":-0.57,"flux":800},{"l":0.915,"m":0.286,"flux":1000},{"l":0.901,"m":0.27,"flux":1000},{"l":0.915,"m":0.27,"flux":1000},{"l":0.928,"m":0.27,"flux":1000}]},"mark":{"type":"circle","opacity":1,"size":8},"encoding":{"color":{"field":"flux","type":"quantitative","scale":{"domain":[0,1000],"scheme":"cividis"},"legend":null}}},
{"data":{"values":[{"l":-0.149,"m":-0.438,"flux":1000}]},"mark":{"type":"circle","opacity":1,"size":45},"encoding":{"color":{"field":"flux","type":"quantitative","scale":{"domain":[0,1000],"scheme":"cividis"},"legend":null}}},
{"data":{"name":"contours_b"},"mark":{"type":"line","interpolate":"catmull-rom","stroke":"#cfd3da","strokeWidth":1.2},"encoding":{"detail":{"field":"seg"},"order":{"field":"i","type":"quantitative"}}},
{"data":{"values":[{"l":0,"m":0.232}]},"mark":{"type":"point","filled":false,"opacity":1,"stroke":"#000a1e","strokeWidth":1.3,"size":784}},
{"data":{"values":[{"l":-0.535,"m":-0.696},{"l":0.529,"m":-0.696}]},"mark":{"type":"point","filled":false,"opacity":1,"stroke":"#cfd3da","strokeWidth":1.2,"size":64}},
{"data":{"values":[{"l":-0.009,"m":0.892,"label":"0.01000"},{"l":-0.063,"m":0.648,"label":"0.00100"}]},"mark":{"type":"text","font":"Liberation Serif","fontSize":12,"color":"#ccd1d8"},"encoding":{"text":{"field":"label"}}},
{"data":{"values":[{"l":0.181,"m":0.48,"label":"0.10000"}]},"mark":{"type":"text","font":"Liberation Serif","fontSize":12,"color":"#ccd1d8","angle":34},"encoding":{"text":{"field":"label"}}},
{"data":{"values":[{"l":-0.715,"m":0.222,"label":"0.01000"},{"l":-0.362,"m":0.281,"label":"0.01000"},{"l":0.417,"m":0.24,"label":"0.01000"}]},"mark":{"type":"text","font":"Liberation Serif","fontSize":12,"color":"#ccd1d8","angle":-90},"encoding":{"text":{"field":"label"}}},
{"data":{"values":[{"l":-0.955,"m":0.245,"label":"0.00100"}]},"mark":{"type":"text","font":"Liberation Serif","fontSize":12,"color":"#ccd1d8","angle":-70},"encoding":{"text":{"field":"label"}}},
{"data":{"values":[{"l":0.969,"m":0.232,"label":"0.00100"}]},"mark":{"type":"text","font":"Liberation Serif","fontSize":12,"color":"#ccd1d8","angle":75},"encoding":{"text":{"field":"label"}}},
{"data":{"values":[{"l":-0.548,"m":-0.194,"label":"0.00100"}]},"mark":{"type":"text","font":"Liberation Serif","fontSize":12,"color":"#ccd1d8","angle":3},"encoding":{"text":{"field":"label"}}},
{"data":{"values":[{"l":0.593,"m":-0.199,"label":"0.00100"}]},"mark":{"type":"text","font":"Liberation Serif","fontSize":12,"color":"#ccd1d8","angle":12},"encoding":{"text":{"field":"label"}}},
{"data":{"values":[{"l":-0.063,"m":-0.176,"label":"0.01000"}]},"mark":{"type":"text","font":"Liberation Serif","fontSize":12,"color":"#ccd1d8","angle":-3},"encoding":{"text":{"field":"label"}}},
{"data":{"values":[{"l":-0.041,"m":-0.597,"label":"0.01000"}]},"mark":{"type":"text","font":"Liberation Serif","fontSize":12,"color":"#ccd1d8","angle":-4},"encoding":{"text":{"field":"label"}}},
{"data":{"values":[{"l":0.186,"m":-0.131,"label":"0.00100"}]},"mark":{"type":"text","font":"Liberation Serif","fontSize":12,"color":"#ccd1d8","angle":-20},"encoding":{"text":{"field":"label"}}},
{"data":{"values":[{"l":-1,"l2":1,"m":-1,"m2":1}]},"mark":{"type":"rect","fillOpacity":0,"stroke":"#8a8a8a","strokeWidth":1.3},"encoding":{"x2":{"field":"l2"},"y2":{"field":"m2"}}},
{"data":{"values":[{"l":-0.267,"m":-1.2865,"caption":"(b) Null Sky-model"}]},"mark":{"type":"text","font":"Liberation Serif","fontSize":19.4,"color":"#222222","align":"left"},"encoding":{"text":{"field":"caption"}}}
]},
{"width":104,"height":531,
"encoding":{"y":{"field":"value","type":"quantitative","scale":{"domain":[-141.89,1054.05],"nice":false,"zero":false},"axis":{"orient":"right","offset":-63,"values":[0,200,400,600,800,1000],"format":"d","labelFontSize":14,"title":null}}},
"layer":[
{"data":{"name":"colorbar"},"mark":{"type":"rect"},"encoding":{"x":{"datum":0,"type":"quantitative","scale":{"domain":[-0.864,3.864],"nice":false,"zero":false},"axis":null},"x2":{"datum":1},"y2":{"field":"value2"},"color":{"field":"flux","type":"quantitative","scale":{"domain":[0,1000],"scheme":"cividis"},"legend":null},"stroke":{"field":"flux","type":"quantitative","scale":{"domain":[0,1000],"scheme":"cividis"},"legend":null}}},
{"data":{"values":[{"edge":0,"value":1000,"value2":1000},{"edge":0.5,"value":1051.8,"value2":1000},{"edge":1,"value":1000,"value2":1000}]},"mark":{"type":"area","fill":"#fee838","stroke":"#5a5a50","strokeWidth":1},"encoding":{"x":{"field":"edge","type":"quantitative","axis":null},"y2":{"field":"value2"}}},
{"data":{"values":[{"value":0,"value2":1000}]},"mark":{"type":"rect","fillOpacity":0,"stroke":"#5a5a50","strokeWidth":1},"encoding":{"x":{"datum":0,"type":"quantitative","axis":null},"x2":{"datum":1},"y2":{"field":"value2"}}},
{"data":{"values":[{"value":401,"part":"S"}]},"mark":{"type":"text","font":"Liberation Serif","fontSize":14,"fontStyle":"italic","color":"#333333","angle":-90,"align":"left","baseline":"middle"},"encoding":{"x":{"datum":3,"type":"quantitative","axis":null},"text":{"field":"part"}}},
{"data":{"values":[{"value":426,"part":"apparent"}]},"mark":{"type":"text","font":"Liberation Serif","fontSize":11,"color":"#333333","angle":-90,"align":"left","baseline":"middle"},"encoding":{"x":{"datum":3.18,"type":"quantitative","axis":null},"text":{"field":"part"}}},
{"data":{"values":[{"value":516,"part":"[Jy/Pix²]"}]},"mark":{"type":"text","font":"Liberation Serif","fontSize":14,"color":"#333333","angle":-90,"align":"left","baseline":"middle"},"encoding":{"x":{"datum":3,"type":"quantitative","axis":null},"text":{"field":"part"}}}
]}
]
}
